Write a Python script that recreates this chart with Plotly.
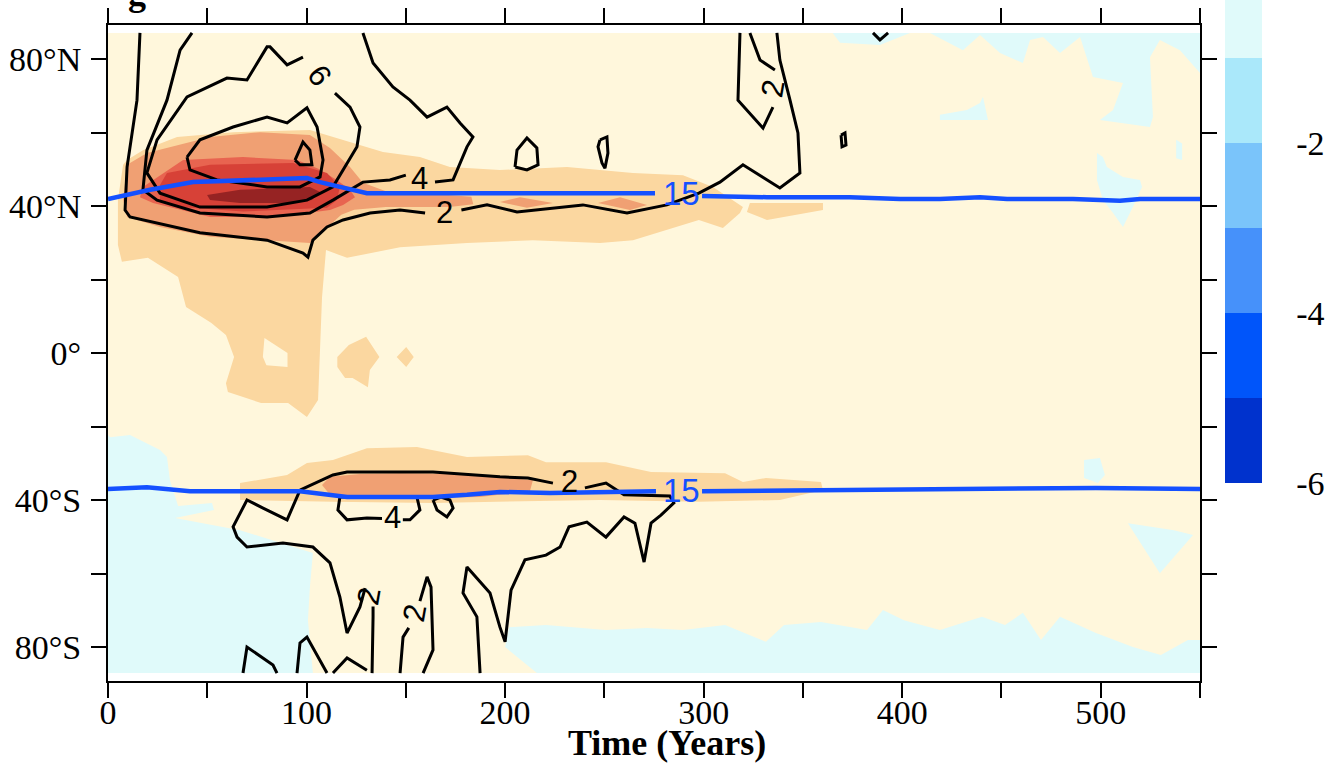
import plotly.graph_objects as go

# ---------------- data extent / axes ----------------
TIME_RANGE = [0, 550]
GRID_LAT = [-87.1, 87.1]          # extent of the coloured data field
AXIS_LAT = [-89.25, 89.25]
X_TICKS = [0, 50, 100, 150, 200, 250, 300, 350, 400, 450, 500, 550]
X_TICK_TEXT = ["0", "", "100", "", "200", "", "300", "", "400", "", "500", ""]
Y_TICKS = [-80, -60, -40, -20, 0, 20, 40, 60, 80]
Y_TICK_TEXT = ["80°S", "", "40°S", "", "0°", "", "40°N", "", "80°N"]

# ---------------- shaded levels (-6 .. 6, step 1) ----------------
LEVELS = [-6, -5, -4, -3, -2, -1, 0, 1, 2, 3, 4, 5, 6]
LEVEL_COLORS = ["#0032CD", "#0055FA", "#4691FA", "#7AC4FA", "#AAE8FA", "#E0FAFA",
                "#FFF7DC", "#FBD7A0", "#F0A073", "#E86450", "#D74137", "#962323"]
CBAR_TICKS = [-6, -4, -2, 0, 2, 4, 6]

# level -1..0 regions (time in years, latitude in degrees)
CYAN_SW = [(0, -22.3), (1, -22.9), (11.1, -22.3), (26.2, -26.4), (29.7, -28.3), (31.2, -34.6),
           (35.3, -41.6), (52.4, -40.8), (53.4, -42.7), (33.7, -44.9), (66.5, -48.2),
           (103.2, -54.4), (101.7, -63.7), (100.7, -72.7), (103.2, -87.1), (0, -87.1)]
CYAN_S = [(202, -74.6), (220.6, -74), (250.8, -75.4), (271.5, -74.8), (289.6, -75.4), (310.8, -74),
          (331.4, -78.6), (340.5, -74), (359.1, -73.2), (382.3, -75.4), (390.3, -69.9),
          (400.9, -72.7), (419, -75.4), (440.2, -71.8), (451.8, -74), (460.8, -70.7),
          (469.9, -78.1), (479.5, -71.8), (497.6, -76.2), (516.2, -80), (530.3, -82.2),
          (543.9, -78.1), (550, -78.1), (550, -87.1), (216, -87.1), (200, -80)]
CYAN_N = [(365, 87.1), (368.7, 84.4), (388.8, 83.8), (403.9, 87.1), (414, 87.1), (430.6, 82.4),
          (439.2, 86.5), (449.3, 81.6), (460.8, 78.9), (464.4, 85.2), (470.9, 86), (479.5, 81.6),
          (489.6, 86), (496.1, 75.1), (511.2, 73.5), (506.2, 66.1), (499.6, 63.4), (524.8, 61.5),
          (526.3, 64.2), (524.8, 80.5), (529.8, 85.2), (539.9, 82.4), (550, 76.2), (550, 87.1)]
CYAN_P1 = [(419, 64.8), (432.6, 66.1), (439.2, 68), (440.7, 69.7), (443.2, 63.4), (419, 63.4)]
CYAN_P2 = [(498.1, 54.4), (501.1, 53.3), (503.1, 50.6), (511.2, 47.9), (519.8, 47.1), (520.8, 45.2),
           (516.2, 39.7), (511.2, 34.3), (506.2, 38.1), (501.1, 41.6), (498.1, 47.1)]
CYAN_P3 = [(538, 58), (541, 57), (541, 52.5), (538, 53)]
CYAN_P4 = [(491.6, -29.1), (499.6, -28.6), (502.1, -33.2), (498.6, -35.4), (491.6, -34)]
CYAN_P5 = [(513.7, -46.3), (536.9, -48.2), (546.5, -49.5), (529.8, -59.9)]

# level 1..2 regions
LO_N = [(9.6, 52.5), (17.6, 55.2), (34.8, 58.8), (63, 60.1), (101.7, 60.7), (118.4, 58),
        (138.5, 54.7), (157.1, 53.3), (172.2, 50.6), (197.4, 49.8), (231.2, 50.6), (264.4, 49),
        (289.6, 48.4), (304.7, 45.2), (314.8, 41.6), (319.8, 39.7), (318.3, 38.1), (309.7, 34),
        (297.6, 36.2), (281.5, 33.5), (264.4, 30.7), (247.8, 29.9), (214, 30.7), (180.8, 29.9),
        (147.1, 28.8), (120.4, 25.9), (109.8, 28), (107.8, 15.2), (106.8, -1.1), (105.8, -12.8),
        (100.2, -17.4), (90.7, -13.6), (77.1, -13.6), (60.4, -10.6), (59.4, -8.2), (63.5, -1.1),
        (59.4, 4.9), (51.9, 8.2), (39.3, 12.5), (37.3, 16.6), (35.3, 20.7), (20.1, 25.9),
        (7, 24.8), (5, 29.4), (5, 41.6), (7.6, 51.2)]
LO_E = [(323.3, 40.8), (360.1, 40.8), (360.1, 38.9), (331.9, 36.2), (321.8, 38.4)]
LO_B1 = [(115.5, -1.1), (121.3, 2.2), (130, 4.4), (136.7, -1.1), (131.9, -4.6), (130.9, -9.3),
         (123.2, -6.8), (119.4, -6.8), (115.5, -3.8)]
LO_B2 = [(145.4, -1.1), (150.2, 1.6), (154, -1.1), (150.2, -3.8)]
LO_S = [(66.5, -35.4), (90.2, -33.2), (100.2, -29.9), (113.3, -29.1), (130.4, -25.9), (155.6, -25.6),
        (180.8, -28.3), (211.5, -27.8), (220.6, -29.7), (250.8, -29.7), (273.5, -32.4),
        (310.8, -32.7), (319.8, -35.1), (331.4, -34), (359.1, -35.1), (360.1, -37.3),
        (338.4, -40), (297.6, -40.5), (247.8, -40), (163.7, -40.8), (113.3, -40.5), (66.5, -40)]
CREAM_HOLE = [(78.8, 4.1), (90.4, 0), (90.4, -3.8), (79.8, -3.3), (78, -1.1)]

# level 2..3 regions
OR_N = [(9.6, 51.2), (19.6, 54.4), (51.4, 58.8), (76.6, 60.1), (101.7, 59.3), (111.8, 55.8),
        (121.9, 50.6), (128.4, 46.3), (140, 44), (160, 43.5), (183, 42.5), (184, 40.5),
        (172, 39.7), (140, 39.7), (124, 39), (117.5, 37.6), (101.7, 29.9), (51.4, 31.6),
        (26.2, 34.3), (9.6, 37), (7.6, 41.6)]
OR_B1 = [(197.4, 41.1), (207.5, 42.4), (224.1, 40.8), (211, 39.5)]
OR_B2 = [(246.8, 40.8), (257.9, 42.4), (271.5, 40.3), (262.9, 38.9)]
OR_S = [(107.8, -35.9), (111.8, -33.7), (126.9, -32.9), (147.1, -32.7), (182.3, -32.9),
        (214, -34.6), (212.5, -37.6), (187.4, -39.2), (147.1, -39.5), (111.8, -38.6)]
# level 3..4
RO_N = [(16.1, 42.4), (17.6, 45.2), (37.8, 52.5), (68, 53.3), (95.2, 52.5), (105.3, 50.3),
        (115.3, 47.1), (121.9, 44.4), (124.4, 42.4), (118.4, 40.3), (111.8, 38.9), (85.1, 37),
        (51.4, 37), (22.7, 40.8)]
# level 4..5
RD_N = [(26.2, 41.6), (26.2, 45.7), (29.7, 49), (51.4, 51.2), (93.2, 51.7), (110.3, 49),
        (116.8, 45.2), (115.3, 41.6), (110.3, 39.5), (68, 38.5), (34.8, 39.8)]
# level 5..6
DR_N = [(49.9, 43), (66.5, 44.4), (101.7, 45.2), (106.8, 43.8), (102.7, 41.6), (91.7, 40.8),
        (66.5, 40.8), (51.4, 41.6)]

# ---------------- black contour lines (None = gap for a label) ----------------
N2 = [(16.1, 87.1), (14.6, 68.8), (9.6, 50.6), (8.6, 38.9), (11.1, 37), (46.3, 32.7), (80.1, 30.7),
      (98.2, 27.2), (100.7, 26.1), (103.2, 30.7), (110.3, 34.3), (118.4, 36.2), (132, 38.1),
      (147.1, 38.9), (159.7, 38.1), None, (178, 38.9), (190.9, 40.3), (206, 38.4), (239.2, 40.3),
      (261.4, 38.1), (281.5, 40.3), (297.6, 43.5), (308.2, 46.5), (319.8, 51.2), (338.4, 44.9),
      (348.5, 49), (347.5, 59.9), (343.5, 68.8), (338.4, 79.7), (336.9, 87.1)]
N2_LOOP = [(318.3, 87.1), (317.3, 68.8), (329.9, 61.2), (334.9, 66.9), None, (335.9, 77),
           (328.4, 79.7), (323.3, 87.1)]
N4 = [(42.3, 87.1), (36.3, 82.4), (29.7, 68.8), (19.6, 55.2), (17.6, 44.4), (24.7, 41.6),
      (46.3, 38.1), (80.1, 37), (101.7, 38.1), (113.3, 41.6), (128.4, 46.5), (142, 47.1),
      (150, 48.4), None, (164.7, 46.5), (173.8, 47.1), (180.8, 56.1), (183.8, 58.8), (177.3, 62.6),
      (170.7, 66.9), (160.7, 64.2), (152.1, 68.8), (143.5, 72.4), (133.5, 78.9), (128.4, 87.1)]
N6 = [(114.3, 70.7), (121.9, 66.9), (126.9, 61.5), (125.4, 56.1), (113.3, 45.2), (100.2, 41.6),
      (80.1, 39.7), (46.3, 39.7), (26.2, 43.5), (19.6, 49), (24.7, 58), (39.8, 69.7),
      (59.9, 74.8), (70, 74.3), (80.1, 83.3), (81.6, 83.3), (90.2, 78.4), (98.2, 80.5)]
N8 = [(39.8, 53.3), (46.3, 58), (63, 61.5), (80.1, 64.2), (90.2, 62.6), (100.2, 66.7),
      (105.3, 61.5), (108.3, 52.5), (106.8, 47.9), (96.7, 45.2), (80.1, 45.2), (54.9, 47.1),
      (41.3, 49.8), (39.8, 53.3)]
N10 = [(94.2, 52.5), (98.2, 57.4), (101.7, 55.2), (102.7, 51.2), (96.7, 51.2), (94.2, 52.5)]
NL1 = [(205, 50.6), (206, 55.2), (211, 58.5), (216, 55.8), (216.6, 51.2), (211, 49.8), (205, 50.6)]
NL2 = [(247.8, 58), (251.3, 58.8), (251.8, 54.4), (250.3, 50.3), (248.8, 51.7), (246.8, 56.1),
       (247.8, 58)]
NL3 = [(369.2, 59.3), (371.2, 59.9), (371.7, 56.6), (369.7, 56.1), (369.2, 59.3)]
NL4 = [(385.3, 87.1), (388.8, 85.2), (392.9, 87.1)]
S2 = [(96.7, -37.3), (113.3, -33.2), (120.4, -32.4), (147.1, -32.4), (163.7, -32.4),
      (197.4, -33.7), (211.5, -34), (224.1, -35.4), None, (240.2, -36.7), (250.8, -35.4),
      (259.9, -38.6), (283, -38.9), (285, -40.8), (278.5, -44.1), (273.5, -46.3), (270, -56.9),
      (265.4, -46.3), (259.9, -44.6), (250.8, -50.1), (241.2, -46), (232.2, -47.3), (227.7, -52.8),
      (220.6, -55), (210, -56.3), (203, -64.5), (201, -74.6), (200, -78.6), (197.4, -74.6),
      (192.4, -65.3), (180.8, -58.2), (178.8, -65.3), (185.8, -71.8), (187.4, -87.1)]
S2_W = [(96.7, -37.3), (95.2, -39.2), (92.7, -42.7), (90.2, -45.4), (78.1, -42.2), (70, -40),
        (63, -47.3), (65, -50.1), (70, -52.8), (88.1, -51.7), (103.2, -52.8), (111.8, -57.1),
        (116.8, -66.4), (120.4, -76.2), (126.9, -69.1), (129.5, -64), None, (133.5, -69),
        (133.5, -71.8), (133, -87.1)]
SH1 = [(68, -87.1), (70, -80), (83.1, -84.9), (85.1, -87.1)]
SH2 = [(95.2, -87.1), (96.7, -78.9), (100.2, -77.3), (110.3, -87.1)]
SH3 = [(113.3, -87.1), (120.4, -83), (130.4, -86.3)]
SH4 = [(147.1, -87.1), (148.6, -77.3), (151.5, -74.8), None, (157.1, -67.5), (160.7, -60.9),
       (162.7, -63.7), (163.7, -80.8), (158.7, -87.1)]
S4 = [(155.6, -39.2), (157.1, -42.7), (152.1, -45.4), (148.5, -45.4), None, (138, -45),
      (130.4, -44.9), (120.4, -45.4), (115.8, -42.7), (116.8, -39.2), (155.6, -39.2)]
S_LOOP = [(163.7, -40), (165.7, -42.7), (170.7, -44.6), (173.8, -42.2), (172.2, -40),
          (167.7, -39.2), (163.7, -40)]
BLACK_LABELS = [("2", 169.7, 38.1, 0), ("4", 157.1, 47.6, 0), ("6", 106.5, 75.5, 55),
                ("2", 334.8, 72.0, -80), ("2", 232.2, -35.1, 0), ("4", 143.5, -44.8, 0),
                ("2", 131.5, -66.3, -80), ("2", 154.3, -70.8, -80)]

# ---------------- blue 15 isoline ----------------
BLUE_N = [(0, 41.9), (21.2, 44.4), (42.8, 46.5), (71.5, 47.1), (100.2, 47.6), (106.8, 46.5),
          (118.4, 44.9), (130.4, 43.5), (157.1, 43.5), (197.4, 43.5), (231.2, 43.5), (275.5, 43.5),
          None, (299.2, 42.7), (331.9, 42.4), (373.7, 42.4), (398.9, 41.9), (419, 41.9),
          (439.2, 42.4), (452.8, 41.9), (486, 41.9), (509.7, 41.4), (519.8, 41.9), (550, 41.9)]
BLUE_S = [(0, -37), (19.6, -36.5), (41.3, -37.6), (96.7, -37.6), (120.4, -39.2), (163.7, -39.2),
          (180.8, -38.6), (197.4, -37.8), (222.6, -38.1), (276, -37.6), None, (299.2, -37.6),
          (382.3, -37.3), (451.8, -37), (497.6, -36.7), (550, -37)]
BLUE_LABELS = [("15", 288.6, 43.3), ("15", 288.6, -37.3)]

BLUE = "#1450FF"
SERIF = "Liberation Serif"
SANS = "Liberation Sans"


def polys_xy(polys, close=True):
    xs, ys = [], []
    for p in polys:
        for pt in p:
            if pt is None:
                xs.append(None); ys.append(None)
            else:
                xs.append(pt[0]); ys.append(pt[1])
        if close:
            xs.append(p[0][0]); ys.append(p[0][1])
        xs.append(None); ys.append(None)
    return xs, ys


fig = go.Figure()

base = [[(TIME_RANGE[0], GRID_LAT[0]), (TIME_RANGE[1], GRID_LAT[0]),
         (TIME_RANGE[1], GRID_LAT[1]), (TIME_RANGE[0], GRID_LAT[1])]]
fills = [
    (base, LEVEL_COLORS[6]),
    ([CYAN_SW, CYAN_S, CYAN_N, CYAN_P1, CYAN_P2, CYAN_P3, CYAN_P4, CYAN_P5], LEVEL_COLORS[5]),
    ([LO_N, LO_E, LO_B1, LO_B2, LO_S], LEVEL_COLORS[7]),
    ([CREAM_HOLE], LEVEL_COLORS[6]),
    ([OR_N, OR_B1, OR_B2, OR_S], LEVEL_COLORS[8]),
    ([RO_N], LEVEL_COLORS[9]),
    ([RD_N], LEVEL_COLORS[10]),
    ([DR_N], LEVEL_COLORS[11]),
]
for polys, col in fills:
    xs, ys = polys_xy(polys)
    fig.add_trace(go.Scatter(x=xs, y=ys, mode="lines", fill="toself", fillcolor=col,
                             line=dict(width=0, color=col), hoverinfo="skip", showlegend=False))

# colour bar (discrete shading levels)
n = len(LEVEL_COLORS)
cscale = []
for i, c in enumerate(LEVEL_COLORS):
    cscale.append([i / n, c])
    cscale.append([(i + 1) / n, c])
fig.add_trace(go.Scatter(
    x=[None] * len(LEVELS), y=[None] * len(LEVELS), mode="markers", showlegend=False,
    marker=dict(color=LEVELS, cmin=LEVELS[0], cmax=LEVELS[-1], colorscale=cscale, showscale=True,
                colorbar=dict(thickness=37, thicknessmode="pixels", len=1020, lenmode="pixels",
                              x=(1225 - 108) / 1092, xanchor="left", xpad=0,
                              y=(681 - 483) / 656, yanchor="bottom", ypad=0,
                              tickvals=CBAR_TICKS, ticktext=[str(v) for v in CBAR_TICKS],
                              ticks="outside", ticklen=28, tickcolor="rgba(0,0,0,0)",
                              outlinewidth=0,
                              tickfont=dict(family=SERIF, size=34, color="black")))))

# black contours
blk_closed = [N8, N10, NL1, NL2, NL3, S_LOOP]
blk_open = [N2, N2_LOOP, N4, N6, NL4, S2, S2_W, SH1, SH2, SH3, SH4, S4]
xs1, ys1 = polys_xy(blk_closed, close=False)
xs2, ys2 = polys_xy(blk_open, close=False)
fig.add_trace(go.Scatter(x=xs1 + xs2, y=ys1 + ys2, mode="lines",
                         line=dict(color="black", width=3), hoverinfo="skip", showlegend=False))

# blue 15 line
xb, yb = polys_xy([BLUE_N, BLUE_S], close=False)
fig.add_trace(go.Scatter(x=xb, y=yb, mode="lines", line=dict(color=BLUE, width=4.5),
                         hoverinfo="skip", showlegend=False))

ann = []
for txt, t, la, ang in BLACK_LABELS:
    ann.append(dict(x=t, y=la, xref="x", yref="y", text=txt, showarrow=False, textangle=ang,
                    font=dict(family=SANS, size=31, color="black")))
for txt, t, la in BLUE_LABELS:
    ann.append(dict(x=t, y=la, xref="x", yref="y", text=txt, showarrow=False,
                    font=dict(family=SANS, size=33, color=BLUE)))
ann.append(dict(x=(667 - 108) / 1092, y=(681 - 743) / 656, xref="paper", yref="paper",
                text="<b>Time (Years)</b>", showarrow=False, xanchor="center", yanchor="middle",
                font=dict(family=SERIF, size=36, color="black")))
ann.append(dict(x=(137 - 108) / 1092, y=(681 - 15) / 656, xref="paper", yref="paper",
                text="<b>g</b>", showarrow=False, xanchor="center", yanchor="bottom",
                font=dict(family=SERIF, size=36, color="black")))

axis_common = dict(showline=True, linewidth=2, linecolor="black", mirror="ticks",
                   ticks="outside", ticklen=15, tickwidth=2, tickcolor="black",
                   showgrid=False, zeroline=False,
                   tickfont=dict(family=SERIF, size=34, color="black"))
fig.update_layout(
    width=1343, height=776,
    margin=dict(l=108, r=143, t=25, b=95, autoexpand=False),
    paper_bgcolor="white", plot_bgcolor="white",
    xaxis=dict(range=TIME_RANGE, tickmode="array", tickvals=X_TICKS, ticktext=X_TICK_TEXT,
               ticklabelstandoff=-15, **axis_common),
    yaxis=dict(range=AXIS_LAT, tickmode="array", tickvals=Y_TICKS, ticktext=Y_TICK_TEXT,
               ticklabelstandoff=3, **axis_common),
    annotations=ann,
)

fig.write_html("out.html")
